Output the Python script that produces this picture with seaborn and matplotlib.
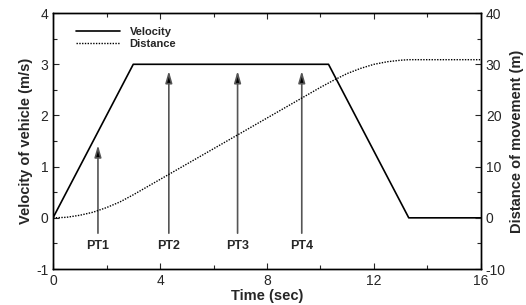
import matplotlib
matplotlib.use("Agg")
import matplotlib.pyplot as plt
import seaborn as sns
import pandas as pd
from matplotlib.ticker import MultipleLocator

# Data
vel_time = [0, 3.0, 10.3, 13.3, 16]
vel_values = [0, 3, 3, 0, 0]

dist_time = [0, 0.5, 1, 1.5, 2, 2.5, 3, 4, 5, 6, 7, 8, 9, 10, 10.5, 11, 11.5, 12, 12.5, 13, 13.3, 14, 15, 16]
dist_values = [0, 0.1, 0.5, 1.1, 2.0, 3.1, 4.5, 7.5, 10.5, 13.5, 16.5, 19.5, 22.5, 25.5, 26.9, 28.2, 29.2, 30.0, 30.5, 30.8, 30.9, 30.9, 30.9, 30.9]

pt_labels = ["PT1", "PT2", "PT3", "PT4"]
pt_time = [1.68, 4.33, 6.9, 9.3]
pt_top = [1.42, 2.87, 2.87, 2.87]

sns.set_style("ticks")
plt.rcParams['font.family'] = ['Liberation Sans', 'DejaVu Sans']
plt.rcParams['axes.unicode_minus'] = False

fig = plt.figure(figsize=(5.26, 3.05), dpi=100)
ax = fig.add_axes([0.1008, 0.118, 0.8136, 0.839])
ax2 = ax.twinx()

vdf = pd.DataFrame({"t": vel_time, "v": vel_values})
ddf = pd.DataFrame({"t": dist_time, "d": dist_values})

sns.lineplot(data=vdf, x="t", y="v", ax=ax, color="black", lw=1.2, label="Velocity", legend=False)
sns.lineplot(data=ddf, x="t", y="d", ax=ax2, color="black", lw=1.0, linestyle=(0, (1, 1)), label="Distance", legend=False)

for lab, t, top in zip(pt_labels, pt_time, pt_top):
    ax.annotate("", xy=(t, top), xytext=(t, -0.3),
                arrowprops=dict(arrowstyle="-|>,head_length=0.7,head_width=0.2", color="#555555", lw=1.2,
                                shrinkA=0, shrinkB=0, mutation_scale=10, fc="black", ec="#555555"))
    ax.text(t, -0.55, lab, ha="center", va="center", fontsize=9, fontweight="bold")

ax.set_xlim(0, 16)
ax.set_ylim(-1, 4)
ax2.set_ylim(-10, 40)

ax.xaxis.set_major_locator(MultipleLocator(4))
ax.xaxis.set_minor_locator(MultipleLocator(2))
ax.yaxis.set_major_locator(MultipleLocator(1))
ax.yaxis.set_minor_locator(MultipleLocator(0.5))
ax2.yaxis.set_major_locator(MultipleLocator(10))
ax2.yaxis.set_minor_locator(MultipleLocator(5))

ax.tick_params(axis="both", which="both", direction="in", top=True, labelsize=10, width=0.8)
ax.tick_params(axis="y", which="both", right=False)
ax.tick_params(which="major", length=4)
ax.tick_params(which="minor", length=3)
ax2.tick_params(axis="y", which="both", direction="in", labelsize=10, width=0.8)
ax2.tick_params(which="major", length=4)
ax2.tick_params(which="minor", length=3)

ax.set_xlabel("Time (sec)", fontsize=10.5, fontweight="bold", labelpad=1)
ax.set_ylabel("Velocity of vehicle (m/s)", fontsize=10.5, fontweight="bold", labelpad=2)
ax2.set_ylabel("Distance of movement (m)", fontsize=10.5, fontweight="bold", labelpad=3)

for a in (ax, ax2):
    for s in a.spines.values():
        s.set_linewidth(1.0)
        s.set_color("black")

h1, l1 = ax.get_legend_handles_labels()
h2, l2 = ax2.get_legend_handles_labels()
leg = ax.legend(h1 + h2, l1 + l2, loc="upper left", frameon=False, fontsize=8,
                handlelength=3.9, handletextpad=0.9, borderaxespad=0.3,
                bbox_to_anchor=(0.036, 0.975), labelspacing=0.15)
for t in leg.get_texts():
    t.set_fontweight("bold")

fig.savefig("out.png", dpi=100)
